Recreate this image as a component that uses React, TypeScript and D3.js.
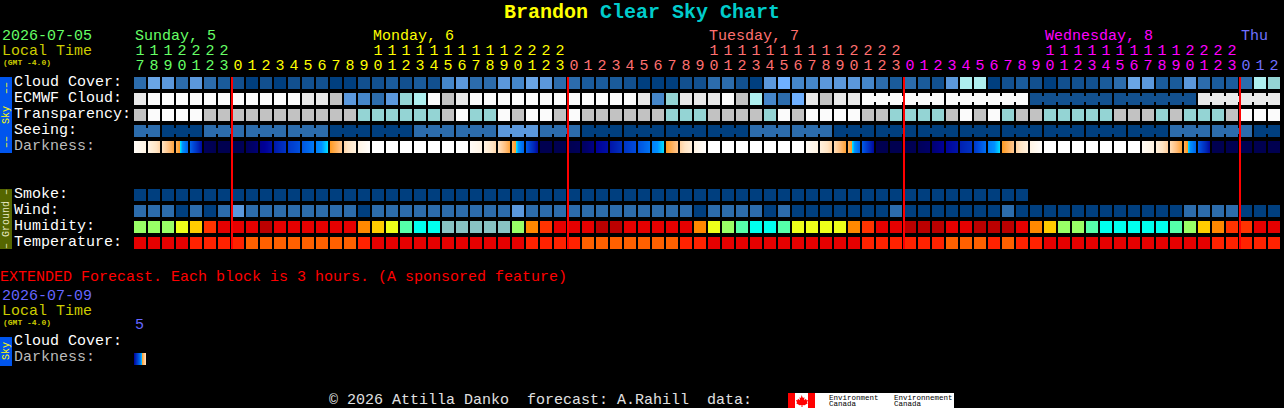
import * as d3 from "d3";

const FONT = "'Liberation Mono', 'DejaVu Sans Mono', monospace";
const WIDTH = 1284;
const HEIGHT = 408;

// hours shown on the chart, one per block
const START_HOUR = 17;
const HOURS = d3.range(82).map((i) => (START_HOUR + i) % 24);

const DAYS = [
  { label: "Sunday, 5", color: "#66ff66", firstCell: 0, labelCell: 0 },
  { label: "Monday, 6", color: "#ffff00", firstCell: 7, labelCell: 17 },
  { label: "Tuesday, 7", color: "#ff7070", firstCell: 31, labelCell: 41 },
  { label: "Wednesday, 8", color: "#ff00ff", firstCell: 55, labelCell: 65 },
  { label: "Thu", color: "#7070ff", firstCell: 79, labelCell: 79 },
];

const SKY_ROWS = ["Cloud Cover:", "ECMWF Cloud:", "Transparency:", "Seeing:", "Darkness:"];
const GROUND_ROWS = ["Smoke:", "Wind:", "Humidity:", "Temperature:"];

const CLOUD_COLORS = [
  "#003f7f", "#12508f", "#1a5b9b", "#2c6cac", "#4586c9", "#5b98dc", "#6aa5e5",
  "#6fb0ff", "#94d4d4", "#aeefef", "#c2c2c2", "#e9e9e9", "#fbfbfb",
];
const HUMIDITY_COLORS = [
  "#bb0000", "#e60000", "#ff3300", "#ff8800", "#ffcc00", "#eeff1a",
  "#99ff66", "#55ffaa", "#00ffee", "#88c4c4",
];
const TEMP_COLORS = ["#e60000", "#ff2200", "#ff6000"];

const CLOUD = [
  3, 6, 5, 3, 5, 3, 2, 1, 0, 1, 0, 1, 1, 1, 0, 0, 1, 1, 2, 1, 2, 1,
  4, 5, 3, 3, 5, 4, 6, 5, 3, 3, 2, 2, 2, 1, 0, 0, 0, 1, 1, 3, 3, 1, 0, 5, 7, 4, 4, 5, 5, 5,
  4, 3, 2, 3, 2, 1, 5, 9, 9, 0, 1, 2, 1, 0, 1, 1, 1, 2, 3, 6, 5, 2, 2, 5, 3, 2, 2, 3, 9, 8,
];
const ECMWF = [
  11, 12, 12, 12, 12, 12, 12, 12, 12, 12, 12, 12, 11, 11, 10, 5, 4, 3, 5, 8, 9,
  12, 10, 11, 12, 12, 12, 12, 12, 12, 12, 12, 12, 12, 12, 12, 11, 4, 8, 11, 11, 11, 12, 10, 9, 4, 3, 7, 11, 10, 11, 11,
  12, 12, 12, 12, 12, 12, 12, 12, 12, 12, 12, 12, 1, 1, 1, 1, 1, 1, 1, 1, 1, 1, 1, 1, 11, 11, 11, 11, 11, 11,
];
const TRANSPARENCY = [
  10, 12, 12, 12, 12, 10, 10, 10, 10, 10, 10, 10, 10, 10, 10, 10, 8, 8, 8, 8, 8,
  8, 10, 12, 8, 8, 12, 10, 12, 12, 10, 12, 10, 10, 10, 10, 10, 10, 8, 8, 8, 10, 10, 10, 10, 8, 12, 10, 12, 12, 12, 12,
  10, 10, 8, 8, 8, 8, 10, 12, 10, 12, 8, 10, 10, 8, 8, 8, 8, 8, 10, 10, 10, 8, 10, 8, 8, 8, 10, 12, 12, 12,
];
const SEEING = [
  3, 3, 0, 0, 0, 3, 3, 3, 3, 3, 3, 3, 3, 3, 0, 0, 0, 0, 0, 0, 3, 3, 3, 3, 3, 3, 5, 5, 5, 3, 3, 3,
  0, 0, 0, 0, 0, 0, 0, 0, 0, 0, 0, 0, 3, 3, 3, 3, 3, 3,
  0, 0, 0, 0, 0, 0, 0, 0, 0, 0, 0, 0, 0, 0, 0, 0, 0, 0, 0, 0, 0, 0, 0, 0, 3, 3, 3, 3, 3, 3, 0, 0,
];
const SMOKE = d3.range(64).map(() => 0);
const WIND = [
  3, 3, 3, 0, 3, 0, 3, 5, 3, 3, 3, 3, 3, 3, 3, 3, 0, 3, 3, 3, 3,
  3, 3, 3, 3, 3, 3, 5, 3, 3, 3, 3, 3, 3, 3, 3, 3, 3, 3, 3, 0, 3, 3, 3, 3, 0, 3, 0, 0, 0, 0, 0,
  0, 0, 3, 0, 0, 0, 0, 0, 0, 0, 3, 0, 0, 0, 0, 0, 0, 0, 0, 0, 0, 0, 0, 3, 3, 3, 3, 0, 0, 0,
];
const HUMIDITY = [
  6, 6, 6, 5, 4, 2, 1, 1, 1, 0, 1, 1, 1, 1, 1, 1, 3, 4, 5, 7, 8,
  8, 9, 9, 9, 9, 9, 6, 3, 2, 1, 1, 1, 0, 0, 1, 1, 1, 1, 1, 3, 5, 6, 7, 8, 8, 7, 5, 5, 5, 5, 3,
  2, 1, 1, 0, 0, 0, 1, 1, 0, 0, 0, 1, 3, 4, 6, 6, 7, 8, 8, 8, 8, 8, 7, 6, 4, 3, 2, 2, 1, 1,
];
const TEMPERATURE = [
  0, 0, 0, 0, 1, 1, 1, 1, 2, 2, 2, 2, 2, 2, 2, 2, 1, 0, 0, 0, 0,
  0, 0, 0, 0, 0, 0, 0, 1, 1, 1, 1, 2, 2, 2, 2, 2, 2, 2, 1, 1, 0, 0, 0, 0, 0, 0, 0, 0, 0, 0, 0,
  1, 1, 1, 1, 1, 1, 2, 2, 2, 1, 2, 1, 1, 0, 0, 0, 0, 0, 0, 0, 0, 0, 0, 0, 0, 1, 1, 1, 1, 1,
];

// darkness at the left and right edge of each block
const DARK_START = [
  0.3, 1, 2, 3.3, 5.3, 9.6, 10, 10, 9.5, 8.3, 7.4, 6.5, 5.7, 4.7, 4, 2.4, 1, 0, 0, 0, 0, 0, 0, 0,
  0.3, 1, 2, 3.3, 5.5, 10, 10, 10, 9.3, 8, 7.5, 6.6, 5.8, 4.7, 4, 2.5, 1.1, 0, 0, 0, 0, 0, 0, 0,
  0.4, 1.2, 2.2, 3.3, 5.5, 10, 10, 10, 9.6, 8.8, 7.9, 7.2, 6.5, 4.8, 4, 2.5, 1, 0, 0, 0, 0, 0, 0, 0,
  0.4, 1.3, 2.2, 3.4, 5.5, 10, 10, 10, 10, 10,
];
const DARK_END = [
  1, 2.4, 3.7, 5.3, 7.8, 10, 10, 9.7, 8.7, 7.6, 6.6, 5.8, 4.8, 4.05, 2.8, 1.2, 0.1, 0, 0, 0, 0, 0, 0, 0,
  1, 2.4, 3.7, 5.3, 7.8, 10, 10, 9.6, 8.4, 7.6, 6.8, 5.9, 4.9, 4.05, 2.8, 1.3, 0.1, 0, 0, 0, 0, 0, 0, 0,
  1.1, 2.5, 3.8, 5.3, 7.8, 10, 10, 9.8, 9, 8, 7.5, 6.7, 5, 4.05, 2.8, 1.2, 0.1, 0, 0, 0, 0, 0, 0, 0,
  1.1, 2.6, 3.8, 5.3, 7.8, 10, 10, 10, 10, 10,
];
const EXT_DARK = [8, 2];

const darkColor = d3
  .scaleLinear<string>()
  .domain([0, 1, 2, 3, 4, 4.05, 4.4, 5, 6, 7, 8, 9, 10])
  .range([
    "#ffffff", "#fff4e4", "#ffe4c4", "#ffc080", "#ff9920", "#00e0ff", "#0090ff",
    "#0070f0", "#0048d8", "#0028b8", "#000098", "#000068", "#000050",
  ]);

const x = d3
  .scaleBand<number>()
  .domain(d3.range(82))
  .range([133, 1281])
  .paddingInner(1 / 7)
  .paddingOuter(1 / 14);
const ySky = d3.scaleBand<string>().domain(SKY_ROWS).range([75, 155]).paddingInner(0.25).paddingOuter(0.125);
const yGround = d3.scaleBand<string>().domain(GROUND_ROWS).range([187, 251]).paddingInner(0.25).paddingOuter(0.125);
const bw = x.bandwidth();
const strip = d3.scaleLinear().domain([0, bw]);

function Blocks({ values, colors, y }: { values: number[]; colors: string[]; y: number }) {
  return (
    <g>
      {values.map((v, i) => (
        <rect key={i} x={x(i)} y={y} width={bw} height={12} fill={colors[v]} />
      ))}
    </g>
  );
}

// narrow joins between blocks that come from one model step
function Bridges({ values, colors, y, group }: { values: number[]; colors: string[]; y: number; group: (i: number) => number | null }) {
  return (
    <g>
      {values.slice(0, -1).map((v, i) => {
        const a = group(i);
        if (a === null || a !== group(i + 1)) return null;
        return <rect key={i} x={x(i)! + bw} y={y + 3} width={2} height={6} fill={colors[v]} />;
      })}
    </g>
  );
}

function DarkBlock({ from, to, x0, y }: { from: number; to: number; x0: number; y: number }) {
  const s = strip.copy().range([from, to]);
  return (
    <g>
      {d3.range(bw).map((p) => (
        <rect key={p} x={x0 + p} y={y} width={1} height={12} fill={darkColor(s(p + 0.5))} />
      ))}
    </g>
  );
}

function Txt({ px, py, fill, size = 15, weight, children, anchor, rotate }: any) {
  return (
    <text
      x={px}
      y={py}
      fill={fill}
      fontSize={size}
      fontWeight={weight}
      textAnchor={anchor}
      transform={rotate ? `rotate(${rotate} ${px} ${py})` : undefined}
      style={{ whiteSpace: "pre" }}
    >
      {children}
    </text>
  );
}

export default function App() {
  const dayColor = (i: number) => d3.greatest(DAYS.filter((d) => d.firstCell <= i), (d) => d.firstCell)!.color;
  const midnights = d3.range(82).filter((i) => HOURS[i] === 0);
  const seeingGroup = (i: number) => Math.floor((i + 1) / 3);
  const ecmwfGroup = (i: number) => (i >= 52 ? Math.floor((i - 52) / 6) : null);
  const skyY = (name: string) => ySky(name)!;
  const groundY = (name: string) => yGround(name)!;

  return (
    <svg
      width={WIDTH}
      height={HEIGHT}
      style={{ position: "absolute", left: 0, top: 0, display: "block", background: "#000" }}
      fontFamily={FONT}
    >
      <rect width={WIDTH} height={HEIGHT} fill="#000" />

      <text x={504} y={18} fontSize={20} fontWeight="bold" style={{ whiteSpace: "pre" }}>
        <tspan fill="#ffff00">Brandon </tspan>
        <tspan fill="#00cccc">Clear Sky Chart</tspan>
      </text>

      <Txt px={2} py={40} fill="#66ff66">2026-07-05</Txt>
      <Txt px={2} py={55} fill="#cccc00">Local Time</Txt>
      <Txt px={3} py={65} fill="#cccc00" size={8} weight="bold">(GMT -4.0)</Txt>

      {DAYS.map((d) => (
        <Txt key={d.label} px={x(d.labelCell)! + 1} py={40} fill={d.color}>{d.label}</Txt>
      ))}
      <g textAnchor="middle">
        {HOURS.map((h, i) => (
          <g key={i}>
            {h >= 10 && <Txt px={x(i)! + bw / 2} py={55} fill={dayColor(i)}>{Math.floor(h / 10)}</Txt>}
            <Txt px={x(i)! + bw / 2} py={70} fill={dayColor(i)}>{h % 10}</Txt>
          </g>
        ))}
      </g>

      {SKY_ROWS.map((r, i) => (
        <Txt key={r} px={14} py={skyY(r) + 9} fill={i === 4 ? "#bbbbbb" : "#ffffff"}>{r}</Txt>
      ))}
      {GROUND_ROWS.map((r) => (
        <Txt key={r} px={14} py={groundY(r) + 9} fill="#ffffff">{r}</Txt>
      ))}

      <g shapeRendering="crispEdges">
        <rect x={0} y={77} width={12} height={76} fill="#0055ee" />
        <rect x={0} y={189} width={12} height={60} fill="#556600" />
        <rect x={0} y={337} width={12} height={29} fill="#0055ee" />

        <Blocks values={CLOUD} colors={CLOUD_COLORS} y={skyY(SKY_ROWS[0])} />
        <Blocks values={ECMWF} colors={CLOUD_COLORS} y={skyY(SKY_ROWS[1])} />
        <Bridges values={ECMWF} colors={CLOUD_COLORS} y={skyY(SKY_ROWS[1])} group={ecmwfGroup} />
        <Blocks values={TRANSPARENCY} colors={CLOUD_COLORS} y={skyY(SKY_ROWS[2])} />
        <Blocks values={SEEING} colors={CLOUD_COLORS} y={skyY(SKY_ROWS[3])} />
        <Bridges values={SEEING} colors={CLOUD_COLORS} y={skyY(SKY_ROWS[3])} group={seeingGroup} />
        {DARK_START.map((v, i) => (
          <DarkBlock key={i} from={v} to={DARK_END[i]} x0={x(i)!} y={skyY(SKY_ROWS[4])} />
        ))}

        <Blocks values={SMOKE} colors={CLOUD_COLORS} y={groundY(GROUND_ROWS[0])} />
        <Blocks values={WIND} colors={CLOUD_COLORS} y={groundY(GROUND_ROWS[1])} />
        <Blocks values={HUMIDITY} colors={HUMIDITY_COLORS} y={groundY(GROUND_ROWS[2])} />
        <Blocks values={TEMPERATURE} colors={TEMP_COLORS} y={groundY(GROUND_ROWS[3])} />

        {midnights.map((i) => (
          <rect key={i} x={x(i)! - 1} y={77} width={2} height={172} fill="#ff0000" />
        ))}

        <DarkBlock from={EXT_DARK[0]} to={EXT_DARK[1]} x0={x(0)!} y={353} />
      </g>

      <Txt px={9} py={115} fill="#ffff00" size={10} anchor="middle" rotate={-90}>{"––  Sky  ––"}</Txt>
      <Txt px={9} py={219} fill="#e8e8c0" size={10} anchor="middle" rotate={-90}>{"– Ground –"}</Txt>
      <Txt px={9} py={351} fill="#ffff00" size={10} anchor="middle" rotate={-90}>Sky</Txt>

      <Txt px={0} py={281} fill="#ff0000">EXTENDED Forecast. Each block is 3 hours. (A sponsored feature)</Txt>
      <Txt px={2} py={300} fill="#6666ff">2026-07-09</Txt>
      <Txt px={2} py={315} fill="#cccc00">Local Time</Txt>
      <Txt px={3} py={325} fill="#cccc00" size={8} weight="bold">(GMT -4.0)</Txt>
      <Txt px={135} py={329} fill="#6666ff">5</Txt>
      <Txt px={14} py={345} fill="#ffffff">Cloud Cover:</Txt>
      <Txt px={14} py={361} fill="#bbbbbb">Darkness:</Txt>

      <Txt px={329} py={403.5} fill="#e0e0e0">{"© 2026 Attilla Danko  forecast: A.Rahill  data:"}</Txt>

      <g shapeRendering="crispEdges">
        <rect x={788} y={393} width={166} height={15} fill="#ffffff" />
        <rect x={788} y={393} width={7} height={15} fill="#ff0000" />
        <rect x={808} y={393} width={7} height={15} fill="#ff0000" />
      </g>
      <path
        d="M801.5 395l1.5 3 1.5-.7-.5 3 2-1.5.5 1.5 1.5-.3-1 2.5.8.8-3.3 2-2-.2v2h-1v-2l-2 .2-3.3-2 .8-.8-1-2.5 1.5.3.5-1.5 2 1.5-.5-3 1.5.7z"
        fill="#ff0000"
      />
      <g fill="#000000">
        <Txt px={829} py={399.5} fill="#000" size={7.5}>Environment</Txt>
        <Txt px={829} py={405.5} fill="#000" size={7.5}>Canada</Txt>
        <Txt px={894} py={399.5} fill="#000" size={7.5}>Environnement</Txt>
        <Txt px={894} py={405.5} fill="#000" size={7.5}>Canada</Txt>
      </g>
    </svg>
  );
}
